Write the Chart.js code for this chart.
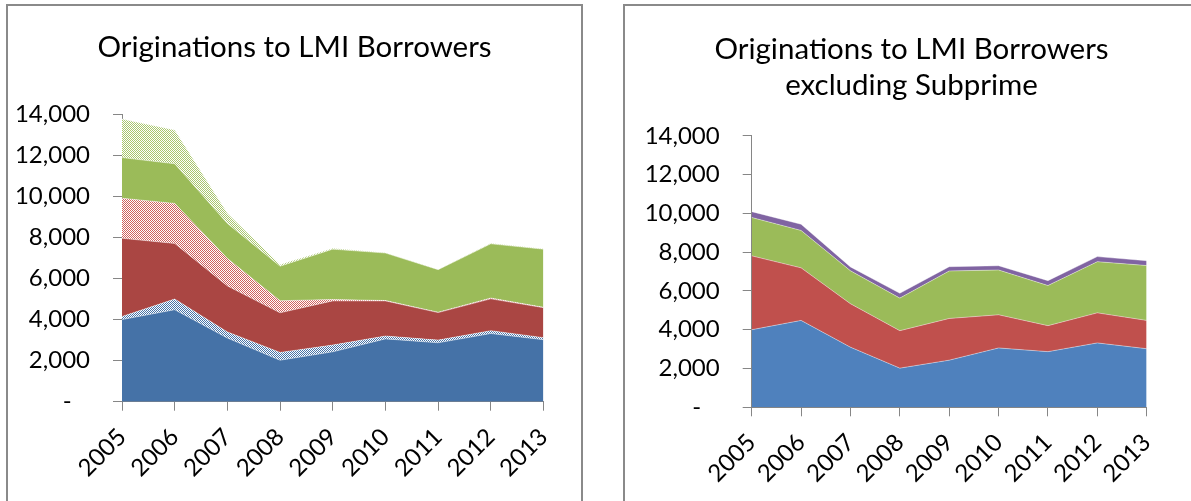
<!DOCTYPE html>
<html>
<head>
<meta charset="utf-8">
<script src="https://cdn.jsdelivr.net/npm/chart.js@4.4.1/dist/chart.umd.min.js"></script>
<style>
  html, body { margin: 0; padding: 0; background: #fff; overflow: hidden; }
  .box {
    position: absolute; top: 4px; width: 577px; height: 560px;
    border: 2px solid #8a8a8a; box-sizing: border-box; background: #fff;
  }
  #boxAll { left: 6px; }
  #boxPrime { left: 623px; }
  canvas { display: block; }
</style>
</head>
<body>
<div class="box" id="boxAll"><canvas id="chartAll" width="573" height="495"></canvas></div>
<div class="box" id="boxPrime"><canvas id="chartPrime" width="573" height="495"></canvas></div>

<script>
const years = ['2005', '2006', '2007', '2008', '2009', '2010', '2011', '2012', '2013'];

// originations by segment (stacked), solid = prime, patterned = subprime
const primeBlue  = [4000, 4480, 3100, 2020, 2430, 3060, 2870, 3320, 3020];
const subBlue    = [150, 520, 300, 380, 330, 140, 130, 140, 100];
const primeRed   = [3810, 2710, 2240, 1930, 2150, 1710, 1340, 1550, 1460];
const subRed     = [1950, 1950, 1340, 590, 70, 20, 20, 40, 20];
const primeGreen = [1980, 1930, 1700, 1680, 2450, 2310, 2070, 2640, 2830];
const subGreen   = [1880, 1650, 500, 80, 50, 20, 10, 30, 20];
const otherPurple = [300, 320, 200, 250, 220, 220, 250, 260, 250];

const yTicks = [0, 2000, 4000, 6000, 8000, 10000, 12000, 14000];

const FONT = 'Lato, "Open Sans", sans-serif';
const AXIS = '#868686';

// 2x2 checker fill used for the subprime layers
function checker(ctx, color, bg) {
  const c = document.createElement('canvas');
  c.width = 2; c.height = 2;
  const g = c.getContext('2d');
  g.fillStyle = bg;
  g.fillRect(0, 0, 2, 2);
  g.fillStyle = color;
  g.fillRect(0, 0, 1, 1);
  g.fillRect(1, 1, 1, 1);
  return ctx.createPattern(c, 'repeat');
}

function area(label, data, fill, first) {
  return {
    label: label,
    data: data,
    backgroundColor: fill,
    borderColor: 'rgba(255,255,255,0.5)',
    borderWidth: 0.8,
    pointRadius: 0,
    tension: 0,
    fill: first ? 'origin' : '-1'
  };
}

function makeChart(id, title, datasets, lay) {
  const ctx = document.getElementById(id).getContext('2d');
  return new Chart(ctx, {
    type: 'line',
    data: { labels: years, datasets: datasets(ctx) },
    options: {
      responsive: false,
      animation: false,
      layout: { padding: { top: 0, left: 0, right: 0, bottom: lay.bottom } },
      plugins: {
        legend: { display: false },
        tooltip: { enabled: false },
        title: {
          display: true,
          text: title,
          color: '#000',
          font: { family: FONT, size: 29.5, weight: 'normal', lineHeight: 1.2 },
          padding: { top: lay.titleTop, bottom: lay.titleBottom }
        }
      },
      scales: {
        x: {
          offset: false,
          grid: { display: true, drawOnChartArea: false, drawTicks: true, tickLength: 9, color: AXIS },
          border: { display: true, color: AXIS, width: 1 },
          ticks: { color: '#000', font: { family: FONT, size: 24 }, minRotation: 45, maxRotation: 45, padding: 12 },
          // keep the title centred on the whole box, only the plot gets the right margin
          afterFit: (s) => { s.height = 85; s.paddingRight = lay.right; }
        },
        y: {
          stacked: true,
          min: 0,
          max: 14000,
          afterBuildTicks: (s) => { s.ticks = yTicks.map(v => ({ value: v })); },
          grid: { display: true, drawOnChartArea: false, drawTicks: true, tickLength: 9, color: AXIS },
          border: { display: true, color: AXIS, width: 1 },
          ticks: {
            color: '#000',
            font: { family: FONT, size: 24 },
            padding: 23,
            callback: (v) => v === 0 ? '-   ' : v.toLocaleString('en-US')
          },
          afterFit: (s) => { s.width = lay.axisWidth; }
        }
      }
    }
  });
}

makeChart('chartAll', 'Originations to LMI Borrowers', (ctx) => [
  area('Prime', primeBlue, '#4572A7', true),
  area('Subprime', subBlue, checker(ctx, '#4572A7', '#ffffff')),
  area('Prime', primeRed, '#AA4643'),
  area('Subprime', subRed, checker(ctx, '#D0615E', '#ffffff')),
  area('Prime', primeGreen, '#9BBB59'),
  area('Subprime', subGreen, checker(ctx, '#A9C66E', '#ffffff'))
], { right: 37.5, bottom: 14.3, axisWidth: 114, titleTop: 24, titleBottom: 48.9 });

makeChart('chartPrime', ['Originations to LMI Borrowers', 'excluding Subprime'], (ctx) => [
  area('Prime', primeBlue, '#4F81BD', true),
  area('Prime', primeRed, '#C0504D'),
  area('Prime', primeGreen, '#9BBB59'),
  area('Other', otherPurple, '#8064A2')
], { right: 51.3, bottom: 8.7, axisWidth: 126.7, titleTop: 26, titleBottom: 33 });
</script>
</body>
</html>
